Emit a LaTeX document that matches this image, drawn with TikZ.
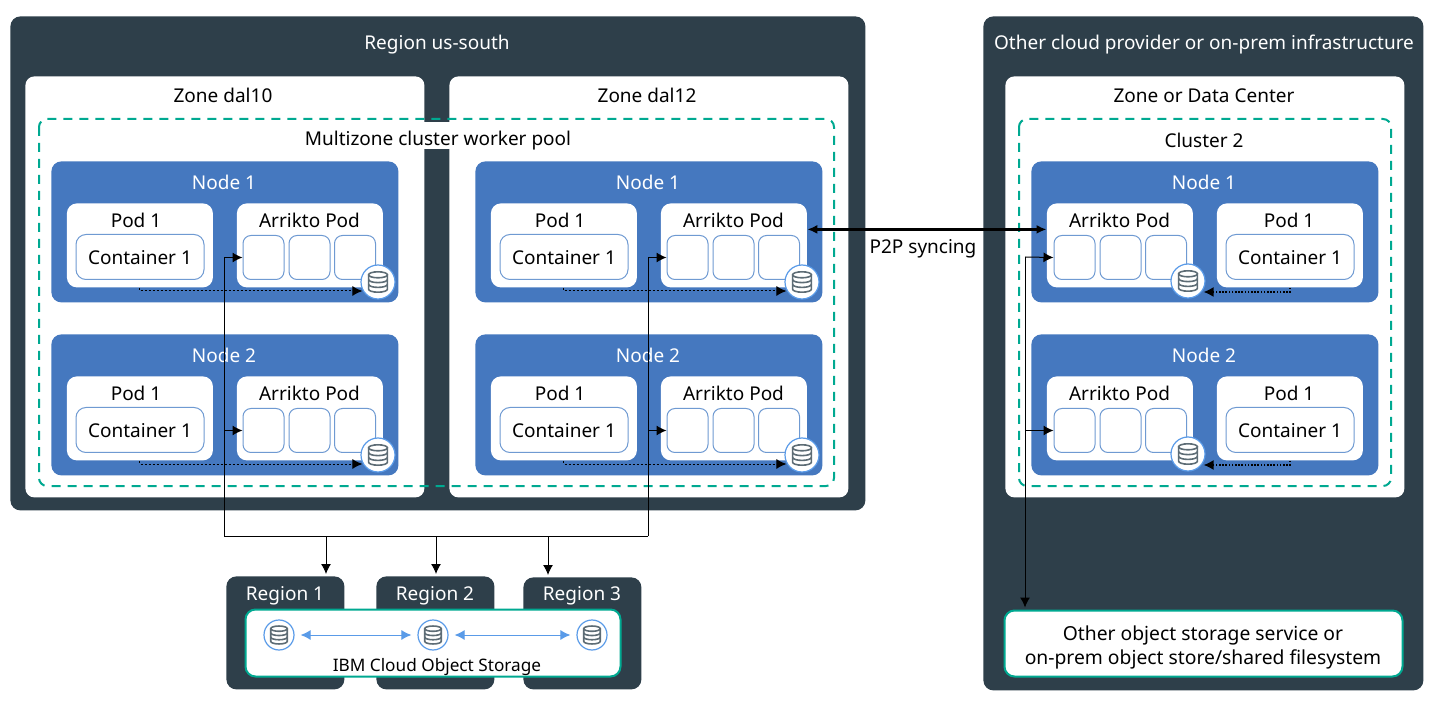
\documentclass[tikz,border=0pt]{standalone}
\usepackage{fontspec}
\setmainfont{Noto Sans}
\usetikzlibrary{arrows.meta,calc}

\definecolor{slate}{HTML}{2E3F4A}
\definecolor{nodeblue}{HTML}{4578BF}
\definecolor{thinblue}{HTML}{6F9AD2}
\definecolor{dbblue}{HTML}{5A9BE8}
\definecolor{dbgray}{HTML}{5D6C75}
\definecolor{teal}{HTML}{00A991}

\newcommand{\txtfont}{\fontsize{9.5}{12}\selectfont}

\tikzset{
    txt/.style={inner sep=0pt, text height=7.7pt, text depth=0pt, font=\txtfont, align=center},
    box/.style n args={3}{draw=none, fill=white, anchor=north west, inner sep=0pt,
        minimum width=#1*0.5pt, minimum height=#2*0.5pt, rounded corners=#3*0.5pt},
    slatebox/.style 2 args={box={#1}{#2}{10}, fill=slate},
    zonebox/.style={box={399}{421}{9}},
    nodebox/.style={box={347}{141}{10}, fill=nodeblue},
    podbox/.style={box={146}{84}{10}},
    contbox/.style={box={128}{45}{10}, draw=thinblue, line width=.5pt, font=\txtfont, text height=7.7pt, text depth=0pt},
    slotbox/.style={box={41}{44}{8}, draw=thinblue, line width=.5pt},
    dbdot/.style={circle, draw=dbblue, fill=white, line width=.6pt, inner sep=0pt, minimum size=17pt},
    dbsmall/.style={dbdot, minimum size=15pt},
    poolline/.style={draw=teal, line width=1pt, dash pattern=on 4.5pt off 3.5pt, rounded corners=4pt},
    storebox/.style={draw=teal, line width=1pt, fill=white, rounded corners=5pt, inner sep=0pt, anchor=north west},
    conn/.style={draw=black, line width=.5pt, -{Latex[length=5pt,width=5pt]}},
    local/.style={draw=black, line width=.5pt, dash pattern=on 1.2pt off .8pt, -{Latex[length=5pt,width=5pt]}},
    localb/.style={local, line width=.75pt, dash pattern=on .8pt off .8pt},
    sync/.style={draw=black, line width=1.5pt, {Latex[length=5pt,width=4.5pt]}-{Latex[length=5pt,width=4.5pt]}},
    replica/.style={draw=dbblue, line width=.5pt, {Latex[length=5pt,width=5pt]}-{Latex[length=5pt,width=5pt]}},
    dbicon/.pic={
        \draw[dbgray, line width=.8pt] (0,3.6pt) ellipse [x radius=4.7pt, y radius=1.5pt];
        \draw[dbgray, line width=.8pt] (-4.7pt,3.6pt) -- (-4.7pt,-3.6pt)
            arc[start angle=180, end angle=360, x radius=4.7pt, y radius=1.5pt] -- (4.7pt,3.6pt);
        \draw[dbgray, line width=.8pt] (-4.7pt,1.2pt) arc[start angle=180, end angle=360, x radius=4.7pt, y radius=1.5pt];
        \draw[dbgray, line width=.8pt] (-4.7pt,-1.2pt) arc[start angle=180, end angle=360, x radius=4.7pt, y radius=1.5pt];
    }
}

\begin{document}
\begin{tikzpicture}[x=0.5pt, y=-0.5pt]

    \useasboundingbox[fill=white] (0,0) rectangle (1440,705);

    % Outer regions
    \node[slatebox={855}{494}] (south) at (10,16) {};
    \node[slatebox={440}{674}] (other) at (983,16) {};
    \node[txt, white] (southlbl) at (437,42) {Region us-south};
    \node[txt, white] (otherlbl) at (1204,42) {Other cloud provider or on-prem infrastructure};

    % Zones
    \node[zonebox] (zonea) at (25,76) {};
    \node[zonebox] (zoneb) at (449,76) {};
    \node[zonebox] (zonec) at (1005,76) {};
    \node[txt] (zonealbl) at (223,95) {Zone dal10};
    \node[txt] (zoneblbl) at (647,95) {Zone dal12};
    \node[txt] (zoneclbl) at (1204,95) {Zone or Data Center};

    % Worker pools
    \draw[poolline] (39,119) rectangle (834,486);
    \draw[poolline] (1019,119) rectangle (1391,486);
    \node[fill=white, inner sep=0pt, minimum width=135pt, minimum height=13.5pt] (poolband) at (438,135.5) {};
    \node[txt] (poollbl) at (438,138) {Multizone cluster worker pool};
    \node[txt] (clusterlbl) at (1204,140) {Cluster 2};

    % Nodes with the app pod on the left
    \foreach \nm/\nx in {a/51,b/475}
        \foreach \k/\ny in {1/161,2/334}
        {
            \node[nodebox] (node\nm\k) at (\nx,\ny) {};
            \node[txt, white] (nodelbl\nm\k) at (\nx+173,\ny+21) {Node \k};
            \node[podbox] (pod\nm\k) at (\nx+15.5,\ny+42) {};
            \node[txt] (podlbl\nm\k) at (\nx+85,\ny+59) {Pod 1};
            \node[contbox] (cont\nm\k) at (\nx+24.5,\ny+73) {Container 1};
            \node[podbox] (ark\nm\k) at (\nx+185.5,\ny+42) {};
            \node[txt] (arklbl\nm\k) at (\nx+258.5,\ny+59) {Arrikto Pod};
            \node[slotbox] (slot\nm\k) at (\nx+191.5,\ny+74) {};
            \node[slotbox] (slotb\nm\k) at (\nx+237.5,\ny+74) {};
            \node[slotbox] (slotc\nm\k) at (\nx+283,\ny+74) {};
            \node[dbdot] (db\nm\k) at (\nx+327,\ny+121) {};
            \pic at (db\nm\k) {dbicon};
            \draw[local] (pod\nm\k.south) |- ([xshift=1pt,yshift=-4.5pt]db\nm\k.west);
        }

    % Nodes with the app pod on the right
    \foreach \k/\ny in {1/161,2/334}
    {
        \node[nodebox] (nodec\k) at (1031,\ny) {};
        \node[txt, white] (nodelblc\k) at (1204,\ny+21) {Node \k};
        \node[podbox] (arkc\k) at (1046.5,\ny+42) {};
        \node[txt] (arklblc\k) at (1119.5,\ny+59) {Arrikto Pod};
        \node[slotbox] (slotc\k) at (1053.5,\ny+74) {};
        \node[slotbox] (slotbc\k) at (1099.5,\ny+74) {};
        \node[slotbox] (slotcc\k) at (1145,\ny+74) {};
        \node[podbox] (podc\k) at (1216.5,\ny+42) {};
        \node[txt] (podlblc\k) at (1289,\ny+59) {Pod 1};
        \node[contbox] (contc\k) at (1225.5,\ny+73) {Container 1};
        \node[dbdot] (dbc\k) at (1188,\ny+120) {};
        \pic at (dbc\k) {dbicon};
        \draw[localb] (podc\k.south) |- ([xshift=-1pt,yshift=-5.5pt]dbc\k.east);
    }

    % Object storage
    \node[slatebox={118}{113}] (reg1) at (226,576) {};
    \node[slatebox={118}{113}] (reg2) at (376,576) {};
    \node[slatebox={118}{112}] (reg3) at (523,577) {};
    \node[txt, white] (reg1lbl) at (285,593) {Region 1};
    \node[txt, white] (reg2lbl) at (435,593) {Region 2};
    \node[txt, white] (reg3lbl) at (582,593) {Region 3};
    \node[storebox, minimum width=187.5pt, minimum height=33.5pt] (cos) at (244.5,608.5) {};
    \node[txt, font=\fontsize{8.6}{10}\selectfont] (coslbl) at (437,664) {IBM Cloud Object Storage};
    \foreach \c/\cx in {1/279,2/433,3/592}
    {
        \node[dbsmall] (cosdb\c) at (\cx,635) {};
        \pic[scale=.88] at (cosdb\c) {dbicon};
    }
    \draw[replica, shorten <=3pt, shorten >=3pt] (cosdb1) -- (cosdb2);
    \draw[replica, shorten <=3pt, shorten >=3pt] (cosdb2) -- (cosdb3);

    \node[storebox, minimum width=199pt, minimum height=33pt] (store) at (1003.5,609.5) {};
    \node[txt, font=\fontsize{9.65}{12}\selectfont] (storelbl) at (1203,657) {Other object storage service or\\on-prem object store/shared filesystem};

    % Connections to object storage
    \coordinate (busl) at (224,536);
    \coordinate (busr) at (648,536);
    \coordinate (busa) at (326,536);
    \coordinate (busb) at (436,536);
    \coordinate (busc) at (548,536);
    \coordinate (rail) at (1025,257);

    \draw[line width=.5pt] (busl) -- (busr);
    \draw[conn] (busl) |- (slota1.west);
    \draw[conn] (busl |- slota2.west) -- (slota2.west);
    \draw[conn] (busr) |- (slotb1.west);
    \draw[conn] (busr |- slotb2.west) -- (slotb2.west);
    \draw[conn, shorten >=1pt] (busa) -- (reg1.north -| busa);
    \draw[conn, shorten >=1pt] (busb) -- (reg2.north -| busb);
    \draw[conn, shorten >=1pt] (busc) -- (reg3.north -| busc);

    \draw[conn] (rail) -- (slotc1.west);
    \draw[conn] (rail |- slotc2.west) -- (slotc2.west);
    \draw[conn, shorten >=1pt] (rail) -- (rail |- store.north);

    % Sync between the clusters
    \draw[sync] ([yshift=8pt]arkb1.east) -- ([yshift=8pt]arkc1.west);
    \node[txt] (synclbl) at (923,246) {P2P syncing};

\end{tikzpicture}
\end{document}
